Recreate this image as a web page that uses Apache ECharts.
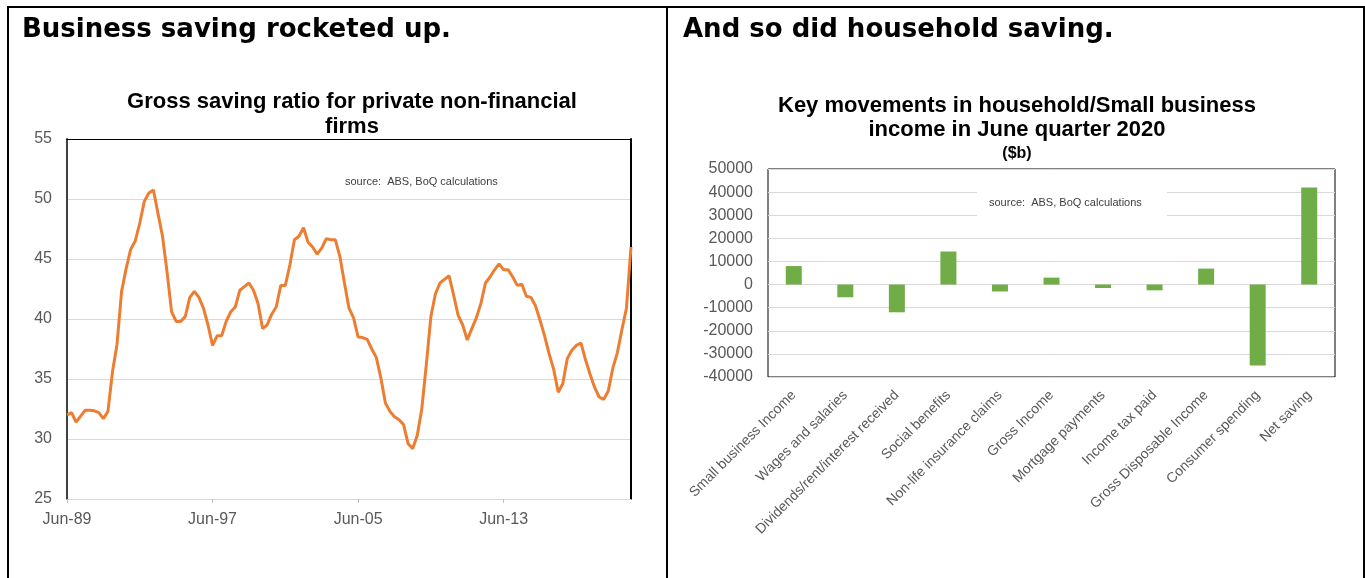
<!DOCTYPE html>
<html>
<head>
<meta charset="utf-8">
<script src="https://cdn.jsdelivr.net/npm/echarts@6/dist/echarts.min.js"></script>
<style>
html,body{margin:0;padding:0;background:#fff;}
#c{width:1365px;height:578px;}
</style>
</head>
<body>
<div id="c"></div>
<script>
// ---- Left chart: gross saving ratio, quarterly Jun-89 .. Jun-20 ----
const savingRatio = [
  32.0, 32.2, 31.4, 31.9, 32.4, 32.4, 32.35, 32.2, 31.7, 32.3,
  35.6, 37.9, 42.3, 44.2, 45.8, 46.5, 48.0, 49.8, 50.5, 50.75,
  48.8, 46.9, 43.9, 40.6, 39.8, 39.8, 40.2, 41.8, 42.3, 41.8,
  40.9, 39.5, 37.8, 38.6, 38.6, 39.8, 40.6, 41.0, 42.4, 42.7,
  43.0, 42.4, 41.3, 39.2, 39.5, 40.4, 41.0, 42.8, 42.8, 44.5,
  46.6, 46.9, 47.6, 46.4, 46.0, 45.4, 45.9, 46.7, 46.6, 46.6,
  45.2, 43.0, 40.9, 40.1, 38.5, 38.45, 38.3, 37.5, 36.8, 35.1,
  33.0, 32.3, 31.85, 31.6, 31.2, 29.6, 29.2, 30.3, 32.5, 36.2,
  40.2, 42.1, 43.0, 43.3, 43.6, 42.0, 40.3, 39.5, 38.25, 39.2,
  40.1, 41.3, 43.0, 43.5, 44.1, 44.6, 44.1, 44.1, 43.5, 42.8,
  42.9, 41.9, 41.8, 41.1, 39.9, 38.6, 37.1, 35.8, 33.9, 34.6,
  36.7, 37.4, 37.8, 38.0, 36.6, 35.4, 34.3, 33.5, 33.3, 34.0,
  35.9, 37.2, 39.1, 40.9, 46.0
];
const quarterMonths = ['Mar', 'Jun', 'Sep', 'Dec'];
const quarters = [];
for (let k = 0; k < savingRatio.length; k++) {
  const q = (1 + k) % 4;
  const yr = (89 + Math.floor((1 + k) / 4)) % 100;
  quarters.push(quarterMonths[q] + '-' + String(yr).padStart(2, '0'));
}
const leftTicks = [25, 30, 35, 40, 45, 50, 55];

// ---- Right chart: key movements, June quarter 2020 ----
const movementCategories = [
  'Small business Income', 'Wages and salaries', 'Dividends/rent/interest received',
  'Social benefits', 'Non-life insurance claims', 'Gross Income', 'Mortgage payments',
  'Income tax paid', 'Gross Disposable Income', 'Consumer spending', 'Net saving'
];
const movementValues = [8000, -5500, -12000, 14300, -3000, 3000, -1500, -2500, 6900, -35000, 42000];
const rightTicks = [-40000, -30000, -20000, -10000, 0, 10000, 20000, 30000, 40000, 50000];

const FONT = "'Liberation Sans', Arial, sans-serif";
const HEAD = "'DejaVu Sans', sans-serif";
const grey = '#595959';

const chart = echarts.init(document.getElementById('c'), null, {renderer: 'canvas'});
chart.setOption({
  backgroundColor: '#ffffff',
  animation: false,
  grid: [
    {left: 67, top: 139, width: 564, height: 360, containLabel: false},
    {left: 768, top: 169, width: 567, height: 208, containLabel: false,
     show: true, borderColor: '#000', borderWidth: 1, backgroundColor: 'transparent'}
  ],
  xAxis: [
    {
      gridIndex: 0, type: 'category', data: quarters, boundaryGap: false,
      axisLine: {lineStyle: {color: '#d9d9d9', width: 1}},
      axisTick: {show: true, interval: 31, length: 4, lineStyle: {color: '#bfbfbf'}},
      axisLabel: {interval: 31, color: grey, fontSize: 16, fontFamily: FONT, margin: 13},
      splitLine: {show: false}
    },
    {
      gridIndex: 0, type: 'category', data: quarters, boundaryGap: false, position: 'top',
      axisLine: {lineStyle: {color: '#000', width: 1}},
      axisTick: {show: false}, axisLabel: {show: false}, splitLine: {show: false}
    },
    {
      gridIndex: 1, type: 'category', data: movementCategories,
      axisLine: {show: false}, axisTick: {show: false},
      axisLabel: {interval: 0, rotate: 45, color: grey, fontSize: 14, fontFamily: FONT, margin: 16},
      splitLine: {show: false}
    }
  ],
  yAxis: [
    {
      gridIndex: 0, type: 'value', min: 25, max: 55, interval: 5,
      axisLine: {show: true, lineStyle: {color: '#404040', width: 2}},
      axisTick: {show: false},
      axisLabel: {color: grey, fontSize: 16, fontFamily: FONT, margin: 15},
      splitLine: {lineStyle: {color: '#d9d9d9', width: 1}}
    },
    {
      gridIndex: 0, type: 'value', min: 25, max: 55, interval: 5, position: 'right',
      axisLine: {show: true, lineStyle: {color: '#000', width: 2}},
      axisTick: {show: false}, axisLabel: {show: false}, splitLine: {show: false}
    },
    {
      gridIndex: 1, type: 'value', min: -40000, max: 50000, interval: 10000,
      axisLine: {show: false}, axisTick: {show: false},
      axisLabel: {color: grey, fontSize: 16, fontFamily: FONT, margin: 15,
                  formatter: v => String(v)},
      splitLine: {lineStyle: {color: '#d9d9d9', width: 1}}
    }
  ],
  series: [
    {
      type: 'line', xAxisIndex: 0, yAxisIndex: 0, data: savingRatio,
      showSymbol: false, symbol: 'none',
      lineStyle: {color: '#ed7d31', width: 3}, z: 3
    },
    {
      type: 'bar', xAxisIndex: 2, yAxisIndex: 2, data: movementValues,
      barWidth: 16, itemStyle: {color: '#70ad47'}, z: 3
    }
  ],
  graphic: [
    // frame lines
    {type: 'line', shape: {x1: 7, y1: 7, x2: 1365, y2: 7}, style: {stroke: '#000', lineWidth: 2}, z: 10},
    {type: 'line', shape: {x1: 8, y1: 7, x2: 8, y2: 578}, style: {stroke: '#000', lineWidth: 2}, z: 10},
    {type: 'line', shape: {x1: 667, y1: 7, x2: 667, y2: 578}, style: {stroke: '#000', lineWidth: 2}, z: 10},
    {type: 'line', shape: {x1: 1364, y1: 7, x2: 1364, y2: 578}, style: {stroke: '#000', lineWidth: 2}, z: 10},
    // panel headings
    {type: 'text', x: 22, y: 30, z: 10, style: {text: 'Business saving rocketed up.', fill: '#000',
      font: 'bold 26px ' + HEAD, verticalAlign: 'middle'}},
    {type: 'text', x: 683, y: 30, z: 10, style: {text: 'And so did household saving.', fill: '#000',
      font: 'bold 26px ' + HEAD, verticalAlign: 'middle'}},
    // chart titles
    {type: 'text', x: 352, y: 102, z: 10, style: {text: 'Gross saving ratio for private non-financial', fill: '#000',
      font: 'bold 22px ' + FONT, align: 'center', verticalAlign: 'middle'}},
    {type: 'text', x: 352, y: 127, z: 10, style: {text: 'firms', fill: '#000',
      font: 'bold 22px ' + FONT, align: 'center', verticalAlign: 'middle'}},
    {type: 'text', x: 1017, y: 106, z: 10, style: {text: 'Key movements in household/Small business', fill: '#000',
      font: 'bold 22px ' + FONT, align: 'center', verticalAlign: 'middle'}},
    {type: 'text', x: 1017, y: 130, z: 10, style: {text: 'income in June quarter 2020', fill: '#000',
      font: 'bold 22px ' + FONT, align: 'center', verticalAlign: 'middle'}},
    {type: 'text', x: 1017, y: 154, z: 10, style: {text: '($b)', fill: '#000',
      font: 'bold 16px ' + FONT, align: 'center', verticalAlign: 'middle'}},
    // source notes
    {type: 'text', x: 345, y: 182, z: 10, style: {text: 'source:  ABS, BoQ calculations', fill: '#404040',
      font: '11px ' + FONT, verticalAlign: 'middle'}},
    {type: 'rect', shape: {x: 977, y: 188, width: 190, height: 28}, style: {fill: '#fff'}, z: 1},
    {type: 'text', x: 989, y: 203, z: 10, style: {text: 'source:  ABS, BoQ calculations', fill: '#404040',
      font: '11px ' + FONT, verticalAlign: 'middle'}}
  ]
});
</script>
</body>
</html>
